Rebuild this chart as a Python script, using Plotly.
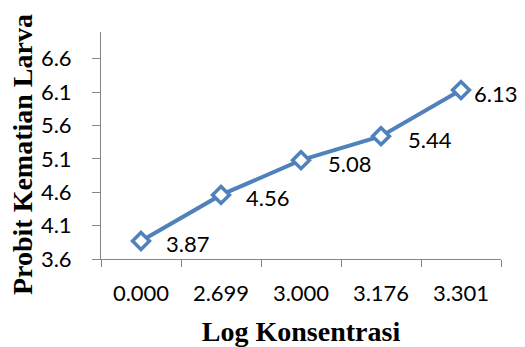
import plotly.graph_objects as go

categories = ["0.000", "2.699", "3.000", "3.176", "3.301"]
probit = [3.87, 4.56, 5.08, 5.44, 6.13]
label_text = ["3.87", "4.56", "5.08", "5.44", "6.13"]
label_xshift = [23, 23, 25, 25, 11]

y_ticks = [3.6, 4.1, 4.6, 5.1, 5.6, 6.1, 6.6]

LINE = "#4F81BD"
AXIS = "#868686"
TICKFONT = dict(family="Lato", size=22, color="#000000")
TITLEFONT = dict(family="Liberation Serif", size=28, color="#000000")

fig = go.Figure()
fig.add_trace(go.Scatter(
    x=categories, y=probit, mode="lines+markers",
    line=dict(color=LINE, width=4),
    marker=dict(symbol="diamond", size=13, color="white",
                line=dict(color=LINE, width=3.5)),
    showlegend=False, cliponaxis=False,
))

for i, (v, t, dx) in enumerate(zip(probit, label_text, label_xshift)):
    fig.add_annotation(x=i, y=v, xref="x", yref="y", text=t, showarrow=False,
                       xanchor="left", yanchor="middle", xshift=dx, yshift=-3,
                       font=TICKFONT)

# y-axis title as a rotated annotation (placed a little below the plot centre, as in the reference)
fig.add_annotation(text="<b>Probit Kematian Larva</b>", textangle=-90,
                   xref="paper", yref="paper", x=0, y=0.458,
                   xanchor="center", yanchor="middle", xshift=-79,
                   showarrow=False, font=TITLEFONT)

# page body has an 8px margin; size/margins compensate so the plot sits as in the reference
fig.update_layout(
    width=517, height=339,
    margin=dict(l=93, r=24, t=24, b=88),
    paper_bgcolor="white", plot_bgcolor="white",
    xaxis=dict(
        type="category", showgrid=False, zeroline=False, automargin=False,
        showline=True, linecolor=AXIS, linewidth=1,
        ticks="outside", ticklen=7, tickcolor=AXIS, tickson="boundaries",
        tickfont=TICKFONT, ticklabelstandoff=15,
        title=dict(text="<b>Log Konsentrasi</b>", font=TITLEFONT, standoff=25),
        range=[-0.5, 4.5],
    ),
    yaxis=dict(
        range=[3.6, 7.0], tickvals=y_ticks, ticktext=[f"{v:.1f}" for v in y_ticks],
        showgrid=False, zeroline=False, automargin=False,
        showline=True, linecolor=AXIS, linewidth=1,
        ticks="outside", ticklen=8, tickcolor=AXIS,
        tickfont=TICKFONT, ticklabelstandoff=16,
    ),
)

fig.write_html("out.html")
